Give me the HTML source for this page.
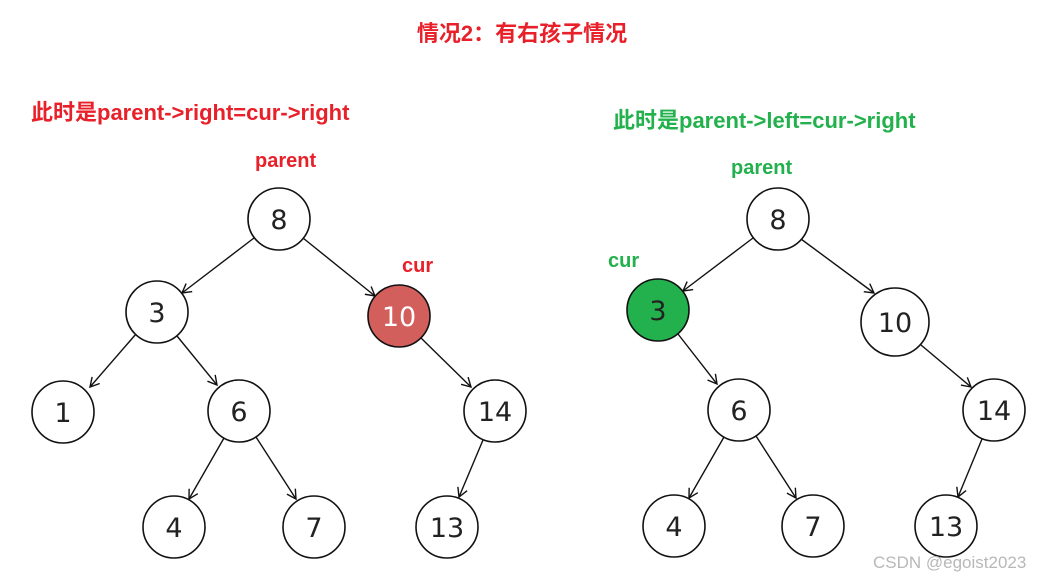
<!DOCTYPE html>
<html><head><meta charset="utf-8"><style>
body{margin:0;background:#fff;width:1061px;height:578px;overflow:hidden}
svg{display:block}
.t{font-family:"Liberation Sans","Noto Sans CJK SC",sans-serif;font-weight:bold}
.n{font-family:"DejaVu Sans","Liberation Sans",sans-serif;font-size:27px;fill:#222;text-anchor:middle}
line{stroke:#111;stroke-width:1.4;marker-end:url(#a)}
circle{stroke:#111;stroke-width:1.6;fill:#fff}
</style></head><body>
<svg width="1061" height="578" viewBox="0 0 1061 578">
<defs><marker id="a" markerWidth="12" markerHeight="12" refX="10" refY="6" orient="auto" markerUnits="userSpaceOnUse"><path d="M1,1 L10,6 L1,11" fill="none" stroke="#111" stroke-width="1.4"/></marker></defs>
<text class="t" x="522" y="41" font-size="22" fill="#e8202a" text-anchor="middle">情况2：有右孩子情况</text>
<text class="t" x="31" y="120" font-size="22" fill="#e8202a">此时是parent-&gt;right=cur-&gt;right</text>
<text class="t" x="613" y="128" font-size="22" fill="#22b14c">此时是parent-&gt;left=cur-&gt;right</text>
<text class="t" x="255" y="167" font-size="20" fill="#e8202a">parent</text>
<text class="t" x="402" y="272" font-size="20" fill="#e8202a">cur</text>
<text class="t" x="731" y="174" font-size="20" fill="#22b14c">parent</text>
<text class="t" x="608" y="267" font-size="20" fill="#22b14c">cur</text>
<line x1="254" y1="238" x2="182" y2="293"/>
<line x1="303" y1="238" x2="375" y2="296"/>
<line x1="136" y1="334" x2="90" y2="387"/>
<line x1="177" y1="336" x2="217" y2="385"/>
<line x1="421" y1="338" x2="471" y2="387"/>
<line x1="224" y1="438" x2="189" y2="499"/>
<line x1="256" y1="437" x2="296" y2="499"/>
<line x1="483" y1="440" x2="459" y2="497"/>
<line x1="753" y1="238" x2="683" y2="291"/>
<line x1="801" y1="239" x2="874" y2="293"/>
<line x1="678" y1="334" x2="717" y2="384"/>
<line x1="921" y1="345" x2="971" y2="387"/>
<line x1="724" y1="437" x2="689" y2="498"/>
<line x1="756" y1="436" x2="796" y2="498"/>
<line x1="982" y1="439" x2="958" y2="497"/>
<circle cx="279" cy="219" r="31"/><text class="n" x="279" y="229">8</text>
<circle cx="157" cy="312" r="31"/><text class="n" x="157" y="322">3</text>
<circle cx="399" cy="316" r="31" fill="#d35f5c" style="fill:#d35f5c"/><text class="n" x="399" y="326" style="fill:#fff">10</text>
<circle cx="63" cy="412" r="31"/><text class="n" x="63" y="422">1</text>
<circle cx="239" cy="411" r="31"/><text class="n" x="239" y="421">6</text>
<circle cx="495" cy="411" r="31"/><text class="n" x="495" y="421">14</text>
<circle cx="174" cy="527" r="31"/><text class="n" x="174" y="537">4</text>
<circle cx="314" cy="527" r="31"/><text class="n" x="314" y="537">7</text>
<circle cx="447" cy="527" r="31"/><text class="n" x="447" y="537">13</text>
<circle cx="778" cy="219" r="31"/><text class="n" x="778" y="229">8</text>
<circle cx="658" cy="310" r="31" style="fill:#22b14c"/><text class="n" x="658" y="320">3</text>
<circle cx="895" cy="322" r="34"/><text class="n" x="895" y="332">10</text>
<circle cx="739" cy="410" r="31"/><text class="n" x="739" y="420">6</text>
<circle cx="994" cy="410" r="31"/><text class="n" x="994" y="420">14</text>
<circle cx="674" cy="526" r="31"/><text class="n" x="674" y="536">4</text>
<circle cx="813" cy="526" r="31"/><text class="n" x="813" y="536">7</text>
<circle cx="946" cy="526" r="31"/><text class="n" x="946" y="536">13</text>
<text x="873" y="568" font-family="Liberation Sans,sans-serif" font-size="17" fill="#b8b8b8">CSDN @egoist2023</text>
</svg>
</body></html>
